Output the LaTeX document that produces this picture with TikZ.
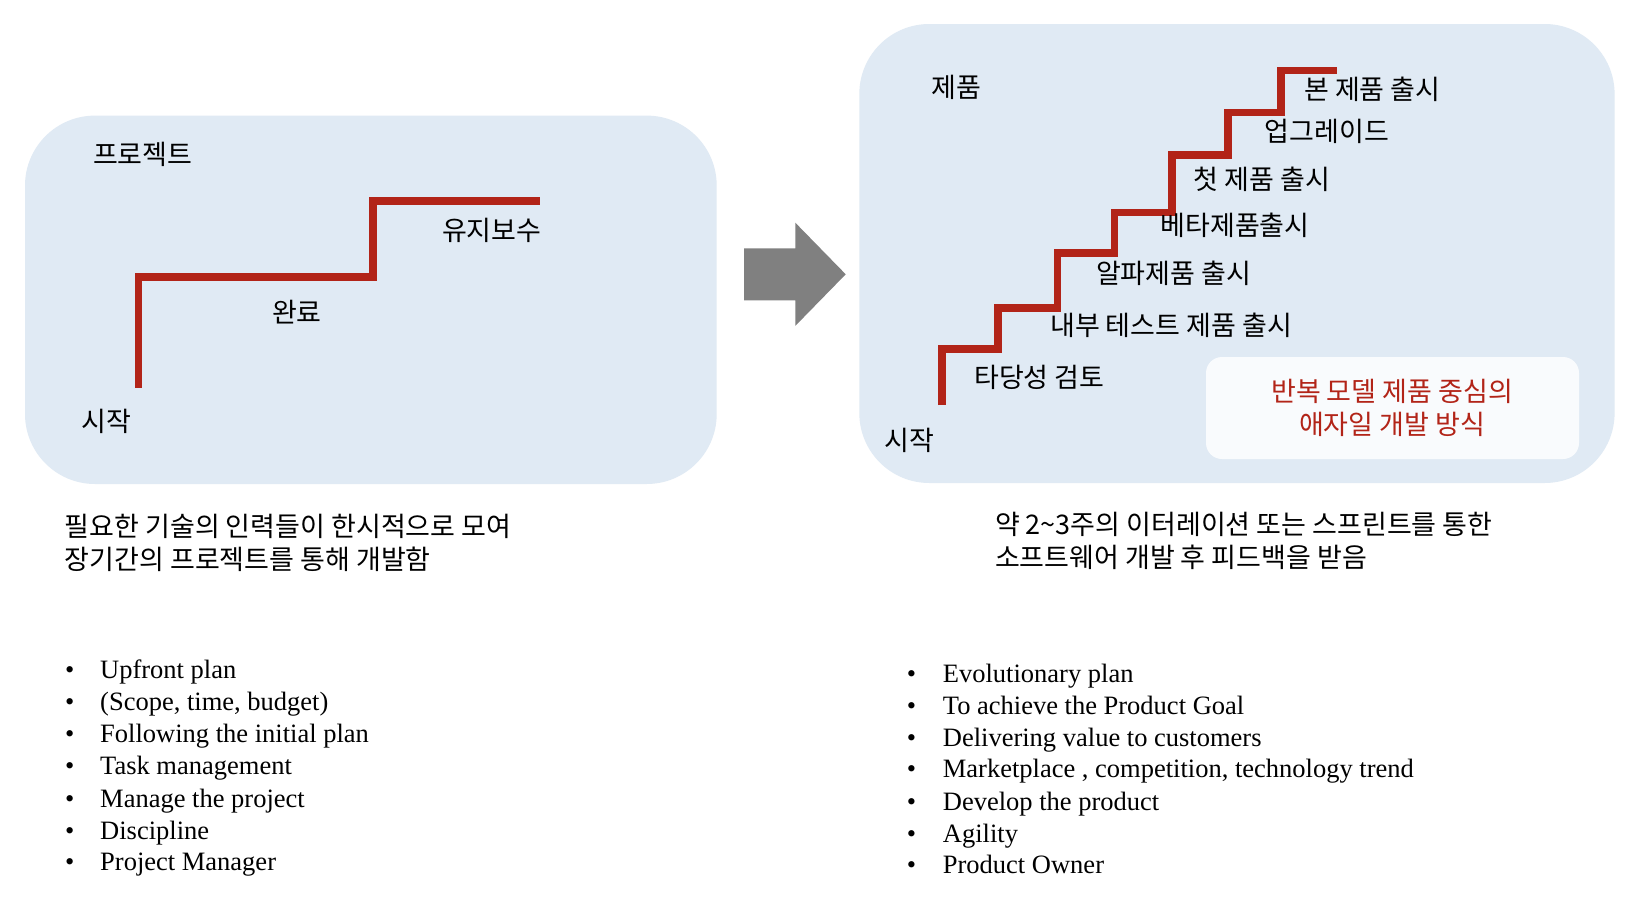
\documentclass[tikz,border=0pt]{standalone}
\usepackage{fontspec}
\setmainfont{Liberation Serif}
\newfontfamily\krfont{Noto Sans CJK KR}
\definecolor{boxblue}{HTML}{E0EAF4}
\definecolor{stairred}{HTML}{B22418}
\definecolor{arrowgray}{HTML}{808080}
\definecolor{innerwhite}{HTML}{F9FBFD}
\begin{document}
\begin{tikzpicture}[x=1pt,y=-1pt,
  panel/.style={fill=boxblue, draw=none, rounded corners=70pt},
  notebox/.style={fill=innerwhite, draw=none, rounded corners=16pt},
  stair/.style={draw=stairred, line width=7.3pt, line join=miter},
  kr/.style={font=\krfont\fontsize{27}{32}\selectfont, inner sep=0pt, anchor=base west},
  krc/.style={kr, anchor=base},
  redtxt/.style={font=\krfont\fontsize{27}{32.3}\selectfont, inner sep=0pt, text=stairred, align=center},
  en/.style={font=\fontsize{26.5}{32}\selectfont, inner sep=0pt, anchor=base west},
  bul/.style={font=\fontsize{26.5}{32}\selectfont, inner sep=0pt, anchor=base}
]
\useasboundingbox (0,0) rectangle (1634,902);
\fill[white] (0,0) rectangle (1634,902);

% panels
\path[panel] (25,115.6) rectangle (716.7,484);
\path[panel] (859.3,24) rectangle (1614.6,483);
\path[notebox] (1206,357) rectangle (1579,459);

% arrow
\fill[arrowgray] (744,248.3) -- (795.3,248.3) -- (795.3,222.7) -- (845.7,274.3)
  -- (795.3,325.9) -- (795.3,300.3) -- (744,300.3) -- cycle;

% left staircase
\draw[stair] (138.5,387.5) -- (138.5,277) -- (373,277) -- (373,201) -- (539.6,201);

% right staircase
\draw[stair] (942,405) -- (942,349) -- (998,349) -- (998,308) -- (1057.3,308)
  -- (1057.3,253) -- (1114.6,253) -- (1114.6,212.5) -- (1172,212.5) -- (1172,155)
  -- (1228,155) -- (1228,112.5) -- (1281,112.5) -- (1281,70.5) -- (1337,70.5);

% left labels
\node[krc] (lproj) at (142.7,164.5) {프로젝트};
\node[krc] (lmaint) at (491.7,240.5) {유지보수};
\node[krc] (ldone) at (296.9,322.8) {완료};
\node[krc] (lstart) at (106.25,431.1) {시작};

% right labels
\node[krc] (rprod) at (956.25,97.8) {제품};
\node[kr] (r7) at (1304,99.8) {본 제품 출시};
\node[kr] (r6) at (1264.6,141.5) {업그레이드};
\node[kr] (r5) at (1193.75,189.5) {첫 제품 출시};
\node[kr] (r4) at (1160.4,235.3) {베타제품출시};
\node[kr] (r3) at (1095.8,283.2) {알파제품 출시};
\node[kr] (r2) at (1050,335.3) {내부 테스트 제품 출시};
\node[kr] (r1) at (974,387.3) {타당성 검토};
\node[krc] (rstart) at (909,450.3) {시작};

\node[redtxt] (rnote) at (1392,408) {반복 모델 제품 중심의\\애자일 개발 방식};

% captions
\node[kr] (lcap1) at (64.6,536.3) {필요한 기술의 인력들이 한시적으로 모여};
\node[kr] (lcap2) at (64.6,569.8) {장기간의 프로젝트를 통해 개발함};
\node[kr] (rcap1) at (994.8,534.3) {약 2\textasciitilde3주의 이터레이션 또는 스프린트를 통한};
\node[kr] (rcap2) at (994.8,567.3) {소프트웨어 개발 후 피드백을 받음};

% left bullets
\node[bul] (lb1d) at (69.8,678) {•};   \node[en] (lb1) at (100,678) {Upfront plan};
\node[bul] (lb2d) at (69.8,710) {•};   \node[en] (lb2) at (100,710) {(Scope, time, budget)};
\node[bul] (lb3d) at (69.8,742.4) {•}; \node[en] (lb3) at (100,742.4) {Following the initial plan};
\node[bul] (lb4d) at (69.8,774.7) {•}; \node[en] (lb4) at (100,774.7) {Task management};
\node[bul] (lb5d) at (69.8,807) {•};   \node[en] (lb5) at (100,807) {Manage the project};
\node[bul] (lb6d) at (69.8,839) {•};   \node[en] (lb6) at (100,839) {Discipline};
\node[bul] (lb7d) at (69.8,870.5) {•}; \node[en] (lb7) at (100,870.5) {Project Manager};

% right bullets
\node[bul] (rb1d) at (911.5,682) {•};    \node[en] (rb1) at (942.7,682) {Evolutionary plan};
\node[bul] (rb2d) at (911.5,714.25) {•}; \node[en] (rb2) at (942.7,714.25) {To achieve the Product Goal};
\node[bul] (rb3d) at (911.5,746.5) {•};  \node[en] (rb3) at (942.7,746.5) {Delivering value to customers};
\node[bul] (rb4d) at (911.5,777.8) {•};  \node[en] (rb4) at (942.7,777.8) {Marketplace , competition, technology trend};
\node[bul] (rb5d) at (911.5,810) {•};    \node[en] (rb5) at (942.7,810) {Develop the product};
\node[bul] (rb6d) at (911.5,842.4) {•};  \node[en] (rb6) at (942.7,842.4) {Agility};
\node[bul] (rb7d) at (911.5,873.6) {•};  \node[en] (rb7) at (942.7,873.6) {Product Owner};
\end{tikzpicture}
\end{document}
